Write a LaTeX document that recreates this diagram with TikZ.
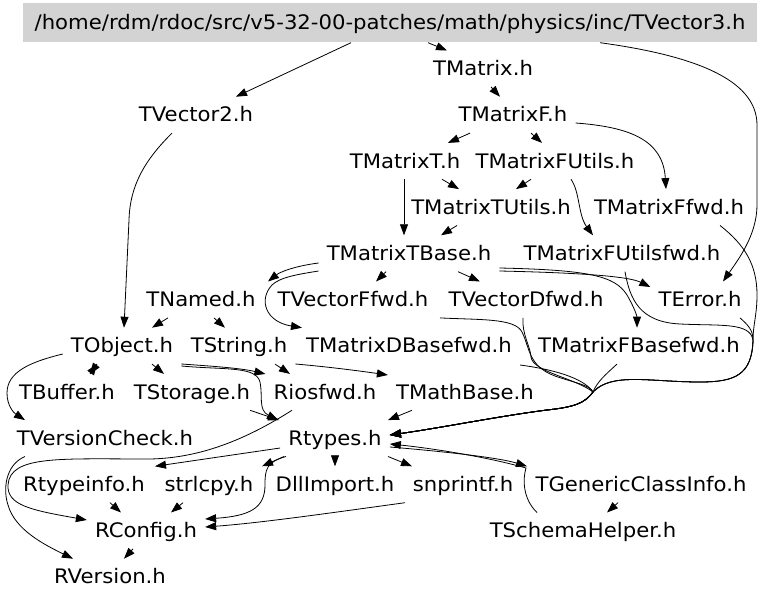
\documentclass[tikz,border=0pt]{standalone}
\usepackage{fontspec}
\newfontfamily\dfont{DejaVu Sans}[FakeStretch=1.06]
\usetikzlibrary{arrows.meta}
\definecolor{rootgray}{HTML}{D3D3D3}
\begin{document}
\begin{tikzpicture}[x=1pt,y=-1pt,
  lbl/.style={inner xsep=8pt, inner ysep=0pt, text height=25pt, text depth=11pt, anchor=base, font=\dfont\fontsize{20}{24}\selectfont},
  rootlbl/.style={lbl, fill=rootgray, minimum width=734pt, text height=26pt, text depth=13pt},
  edge/.style={draw=black, line width=0.8pt, -{Triangle[length=11pt,width=8pt]}}]
\fill[white] (0,0) rectangle (768,601);
\useasboundingbox (0,0) rectangle (768,601);
% nodes
\node[rootlbl] (root) at (390,29.5) {/home/rdm/rdoc/src/v5-32-00-patches/math/physics/inc/TVector3.h};
\node[lbl] (tmatrix) at (483,75.7) {TMatrix.h};
\node[lbl] (tvector2) at (196,121.9) {TVector2.h};
\node[lbl] (tmatrixf) at (513,121.9) {TMatrixF.h};
\node[lbl] (tmatrixt) at (405,168.1) {TMatrixT.h};
\node[lbl] (tmatrixfutils) at (555,168.1) {TMatrixFUtils.h};
\node[lbl] (tmatrixtutils) at (491,214.3) {TMatrixTUtils.h};
\node[lbl] (tmatrixffwd) at (669,214.3) {TMatrixFfwd.h};
\node[lbl] (tmatrixtbase) at (409,260.5) {TMatrixTBase.h};
\node[lbl] (tmatrixfutilsfwd) at (622,260.5) {TMatrixFUtilsfwd.h};
\node[lbl] (tnamed) at (201,306.7) {TNamed.h};
\node[lbl] (tvectorffwd) at (353,306.7) {TVectorFfwd.h};
\node[lbl] (tvectordfwd) at (526,306.7) {TVectorDfwd.h};
\node[lbl] (terror) at (700,306.7) {TError.h};
\node[lbl] (tobject) at (122,352.9) {TObject.h};
\node[lbl] (tstring) at (239,352.9) {TString.h};
\node[lbl] (tmatrixdbasefwd) at (409,352.9) {TMatrixDBasefwd.h};
\node[lbl] (tmatrixfbasefwd) at (639,352.9) {TMatrixFBasefwd.h};
\node[lbl] (tbuffer) at (67,399.1) {TBuffer.h};
\node[lbl] (tstorage) at (192,399.1) {TStorage.h};
\node[lbl] (riosfwd) at (325,399.1) {Riosfwd.h};
\node[lbl] (tmathbase) at (465,399.1) {TMathBase.h};
\node[lbl] (tversioncheck) at (105,445.3) {TVersionCheck.h};
\node[lbl] (rtypes) at (335,445.3) {Rtypes.h};
\node[lbl] (rtypeinfo) at (84,491.5) {Rtypeinfo.h};
\node[lbl] (strlcpy) at (209,491.5) {strlcpy.h};
\node[lbl] (dllimport) at (335,491.5) {DllImport.h};
\node[lbl] (snprintf) at (463,491.5) {snprintf.h};
\node[lbl] (tgenericclassinfo) at (641,491.5) {TGenericClassInfo.h};
\node[lbl] (rconfig) at (146,537.7) {RConfig.h};
\node[lbl] (tschemahelper) at (583,537.7) {TSchemaHelper.h};
\node[lbl] (rversion) at (110,583.9) {RVersion.h};
% edges
\draw[edge] (root.south -| 351,0) -- (tvector2.north -| 236,0);
\draw[edge] (root.south -| 428,0) -- (tmatrix.north -| 447,0);
\draw[edge] (root.south -| 600,0) .. controls (690,55) and (757,78) .. (757,125) -- (757,205) .. controls (757,235) and (738,260) .. (terror.north -| 723,0);
\draw[edge] (tmatrix.south -| 491,0) -- (tmatrixf.north -| 500,0);
\draw[edge] (tmatrixf.south -| 470,0) -- (tmatrixt.north -| 448,0);
\draw[edge] (tmatrixf.south -| 531,0) -- (tmatrixfutils.north -| 542,0);
\draw[edge] (tmatrixf.east |- 0,123) .. controls (630,127) and (663,140) .. (tmatrixffwd.north -| 666,0);
\draw[edge] (tmatrixt.south -| 442,0) -- (tmatrixtutils.north -| 459,0);
\draw[edge] (tmatrixt.south -| 404,0) -- (tmatrixtbase.north -| 404,0);
\draw[edge] (tmatrixfutils.south -| 531,0) -- (tmatrixtutils.north -| 516,0);
\draw[edge] (tmatrixfutils.south -| 571,0) .. controls (580,192) and (578,215) .. (tmatrixfutilsfwd.north -| 593,0);
\draw[edge] (tmatrixtutils.south -| 457,0) -- (tmatrixtbase.north -| 441,0);
\draw[edge] (tmatrixtbase.west |- 0,263) .. controls (295,266) and (280,272) .. (tnamed.north -| 268,0);
\draw[edge] (tmatrixtbase.west |- 0,271) .. controls (300,274) and (280,277) .. (272,285) .. controls (258,300) and (266,322) .. (tmatrixdbasefwd.north -| 302,0);
\draw[edge] (tmatrixtbase.south -| 386,0) -- (tvectorffwd.north -| 376,0);
\draw[edge] (tmatrixtbase.south -| 458,0) -- (tvectordfwd.north -| 480,0);
\draw[edge] (tmatrixtbase.east |- 0,271) .. controls (590,273) and (630,277) .. (terror.west |- 0,287);
\draw[edge] (tmatrixtbase.east |- 0,268) .. controls (590,270) and (615,276) .. (627,295) .. controls (634,307) and (637,316) .. (tmatrixfbasefwd.north -| 637,0);
\draw[edge] (tnamed.south -| 168,0) -- (tobject.north -| 152,0);
\draw[edge] (tnamed.south -| 214,0) -- (tstring.north -| 225,0);
\draw[edge] (tvector2.south -| 172,0) .. controls (145,160) and (130,185) .. (129,220) -- (tobject.north -| 124,0);
\draw[edge] (tobject.west |- 0,354) .. controls (30,362) and (7,372) .. (7,393) .. controls (7,406) and (14,413) .. (tversioncheck.north -| 25,0);
\draw[edge] (tobject.south -| 97,0) -- (tbuffer.north -| 90,0);
\draw[edge] (tbuffer.north -| 90,0) -- (tobject.south -| 97,0);
\draw[edge] (tobject.south -| 152,0) -- (tstorage.north -| 164,0);
\draw[edge] (tobject.east |- 0,364) .. controls (210,366) and (240,368) .. (riosfwd.west |- 0,374);
\draw[edge] (tobject.east |- 0,366) .. controls (225,370) and (256,366) .. (260,382) .. controls (263,396) and (258,410) .. (rtypes.north -| 278,0);
\draw[edge] (tstring.south -| 275,0) -- (riosfwd.north -| 290,0);
\draw[edge] (tstring.east |- 0,364) .. controls (330,367) and (360,371) .. (tmathbase.west |- 0,375);
\draw[edge] (tstorage.south -| 250,0) -- (rtypes.north -| 279,0);
\draw[edge] (riosfwd.south -| 292,0) .. controls (245,440) and (200,458) .. (150,459) .. controls (60,459) and (10,455) .. (8,485) .. controls (7,505) and (30,510) .. (rconfig.west |- 0,520);
\draw[edge] (tmathbase.south -| 412,0) -- (rtypes.north -| 388,0);
\draw[edge] (tversioncheck.south -| 25,0) .. controls (5,465) and (3,490) .. (8,505) .. controls (15,530) and (45,545) .. (rversion.north -| 73,0);
\draw[edge] (rtypes.west |- 0,448) -- (rtypeinfo.north -| 155,0);
\draw[edge] (rtypes.south -| 284,0) -- (strlcpy.north -| 262,0);
\draw[edge] (rtypes.south -| 286,0) .. controls (266,462) and (265,470) .. (265,485) .. controls (265,508) and (250,516) .. (rconfig.east |- 0,519);
\draw[edge] (rtypes.south -| 335,0) -- (dllimport.north -| 335,0);
\draw[edge] (rtypes.south -| 388,0) -- (snprintf.north -| 412,0);
\draw[edge] (rtypes.east |- 0,447) .. controls (450,452) and (500,458) .. (tgenericclassinfo.north -| 527,0);
\draw[edge] (tgenericclassinfo.south -| 618,0) -- (tschemahelper.north -| 607,0);
\draw[edge] (tschemahelper.north -| 537,0) .. controls (522,498) and (523,478) .. (526,468) .. controls (480,455) and (420,447) .. (rtypes.east |- 0,444);
\draw[edge] (rtypeinfo.south -| 110,0) -- (rconfig.north -| 121,0);
\draw[edge] (strlcpy.south -| 183,0) -- (rconfig.north -| 171,0);
\draw[edge] (snprintf.south -| 405,0) .. controls (330,513) and (260,523) .. (rconfig.east |- 0,527);
\draw[edge] (rconfig.south -| 133,0) -- (rversion.north -| 124,0);
% bundle into Rtypes.h from the right
\draw[edge] (tmatrixffwd.south -| 720,0) .. controls (745,245) and (757,265) .. (757,295) .. controls (757,315) and (753,325) .. (753,340) .. controls (752,375) and (735,382) .. (700,382) .. controls (650,382) and (612,372) .. (593,392) .. controls (585,403) and (575,407) .. (547,410) .. controls (500,416) and (440,428) .. (rtypes.east |- 0,435);
\draw[edge] (terror.south -| 740,0) .. controls (748,325) and (753,330) .. (753,340) .. controls (752,375) and (735,382) .. (700,382) .. controls (650,382) and (612,372) .. (593,392) .. controls (585,403) and (575,407) .. (547,410) .. controls (500,416) and (440,428) .. (rtypes.east |- 0,435);
\draw[edge] (tmatrixfutilsfwd.south -| 625,0) .. controls (630,300) and (640,322) .. (680,324) .. controls (720,326) and (750,322) .. (753,340) .. controls (752,375) and (735,382) .. (700,382) .. controls (650,382) and (612,372) .. (593,392) .. controls (585,403) and (575,407) .. (547,410) .. controls (500,416) and (440,428) .. (rtypes.east |- 0,435);
\draw[edge] (tvectorffwd.south -| 440,0) .. controls (480,320) and (515,318) .. (522,332) .. controls (530,348) and (528,366) .. (555,376) .. controls (575,383) and (590,385) .. (593,392) .. controls (585,403) and (575,407) .. (547,410) .. controls (500,416) and (440,428) .. (rtypes.east |- 0,435);
\draw[edge] (tvectordfwd.south -| 523,0) .. controls (522,335) and (530,345) .. (531,357) .. controls (533,372) and (575,378) .. (593,392) .. controls (585,403) and (575,407) .. (547,410) .. controls (500,416) and (440,428) .. (rtypes.east |- 0,435);
\draw[edge] (tmatrixdbasefwd.east |- 0,365) .. controls (550,369) and (583,377) .. (593,392) .. controls (585,403) and (575,407) .. (547,410) .. controls (500,416) and (440,428) .. (rtypes.east |- 0,435);
\draw[edge] (tmatrixfbasefwd.south -| 617,0) .. controls (605,375) and (597,382) .. (593,392) .. controls (585,403) and (575,407) .. (547,410) .. controls (500,416) and (440,428) .. (rtypes.east |- 0,435);
\end{tikzpicture}
\end{document}
